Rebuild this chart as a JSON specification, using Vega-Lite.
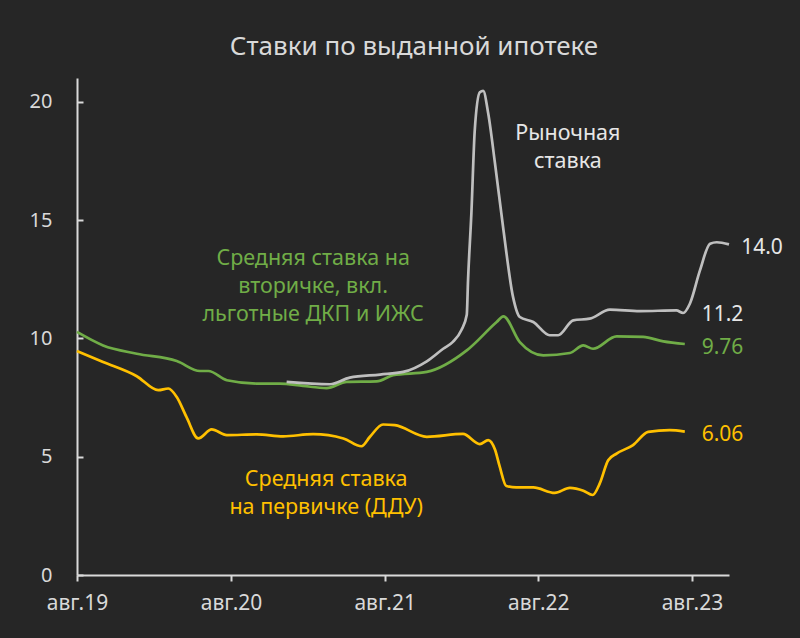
{
  "$schema": "https://vega.github.io/schema/vega-lite/v6.json",
  "autosize": {"type": "none"},
  "width": 652,
  "height": 497,
  "padding": {"left": 77, "top": 78, "right": 71, "bottom": 63},
  "background": "#262626",
  "config": {
    "view": {"stroke": null},
    "font": "Noto Sans",
    "text": {"font": "Noto Sans"}
  },
  "title": {
    "text": "Ставки по выданной ипотеке",
    "fontSize": 26,
    "fontWeight": "normal",
    "color": "#d9d9d9",
    "font": "Noto Sans",
    "anchor": "middle",
    "dx": 11,
    "offset": 18
  },
  "datasets": {
    "series": [
      {"date": "2019-08-01", "value": 10.27, "series": "green"},
      {"date": "2019-10-02", "value": 9.70, "series": "green"},
      {"date": "2019-12-21", "value": 9.35, "series": "green"},
      {"date": "2020-03-25", "value": 9.04, "series": "green"},
      {"date": "2020-05-19", "value": 8.62, "series": "green"},
      {"date": "2020-06-08", "value": 8.62, "series": "green"},
      {"date": "2020-07-22", "value": 8.23, "series": "green"},
      {"date": "2020-10-01", "value": 8.09, "series": "green"},
      {"date": "2020-11-25", "value": 8.09, "series": "green"},
      {"date": "2021-01-19", "value": 7.99, "series": "green"},
      {"date": "2021-03-16", "value": 7.90, "series": "green"},
      {"date": "2021-05-03", "value": 8.16, "series": "green"},
      {"date": "2021-07-13", "value": 8.18, "series": "green"},
      {"date": "2021-08-21", "value": 8.44, "series": "green"},
      {"date": "2021-11-09", "value": 8.58, "series": "green"},
      {"date": "2022-02-12", "value": 9.49, "series": "green"},
      {"date": "2022-04-24", "value": 10.69, "series": "green"},
      {"date": "2022-05-10", "value": 10.93, "series": "green"},
      {"date": "2022-06-18", "value": 9.84, "series": "green"},
      {"date": "2022-08-13", "value": 9.28, "series": "green"},
      {"date": "2022-10-15", "value": 9.38, "series": "green"},
      {"date": "2022-11-16", "value": 9.70, "series": "green"},
      {"date": "2022-12-09", "value": 9.56, "series": "green"},
      {"date": "2023-02-03", "value": 10.08, "series": "green"},
      {"date": "2023-04-07", "value": 10.06, "series": "green"},
      {"date": "2023-05-25", "value": 9.87, "series": "green"},
      {"date": "2023-07-15", "value": 9.76, "series": "green"},

      {"date": "2019-08-01", "value": 9.46, "series": "yellow"},
      {"date": "2019-10-02", "value": 9.00, "series": "yellow"},
      {"date": "2019-12-21", "value": 8.40, "series": "yellow"},
      {"date": "2020-02-10", "value": 7.81, "series": "yellow"},
      {"date": "2020-03-05", "value": 7.88, "series": "yellow"},
      {"date": "2020-03-25", "value": 7.52, "series": "yellow"},
      {"date": "2020-04-17", "value": 6.68, "series": "yellow"},
      {"date": "2020-05-15", "value": 5.77, "series": "yellow"},
      {"date": "2020-06-16", "value": 6.15, "series": "yellow"},
      {"date": "2020-07-22", "value": 5.91, "series": "yellow"},
      {"date": "2020-10-01", "value": 5.94, "series": "yellow"},
      {"date": "2020-12-03", "value": 5.86, "series": "yellow"},
      {"date": "2021-02-12", "value": 5.95, "series": "yellow"},
      {"date": "2021-04-25", "value": 5.77, "series": "yellow"},
      {"date": "2021-06-07", "value": 5.44, "series": "yellow"},
      {"date": "2021-06-27", "value": 5.84, "series": "yellow"},
      {"date": "2021-07-28", "value": 6.36, "series": "yellow"},
      {"date": "2021-08-25", "value": 6.33, "series": "yellow"},
      {"date": "2021-11-09", "value": 5.84, "series": "yellow"},
      {"date": "2022-02-03", "value": 5.96, "series": "yellow"},
      {"date": "2022-03-15", "value": 5.53, "series": "yellow"},
      {"date": "2022-04-04", "value": 5.70, "series": "yellow"},
      {"date": "2022-04-20", "value": 5.30, "series": "yellow"},
      {"date": "2022-05-01", "value": 4.60, "series": "yellow"},
      {"date": "2022-05-17", "value": 3.76, "series": "yellow"},
      {"date": "2022-06-10", "value": 3.70, "series": "yellow"},
      {"date": "2022-07-20", "value": 3.70, "series": "yellow"},
      {"date": "2022-09-09", "value": 3.47, "series": "yellow"},
      {"date": "2022-10-15", "value": 3.68, "series": "yellow"},
      {"date": "2022-11-16", "value": 3.56, "series": "yellow"},
      {"date": "2022-12-08", "value": 3.38, "series": "yellow"},
      {"date": "2022-12-25", "value": 3.87, "series": "yellow"},
      {"date": "2023-01-14", "value": 4.85, "series": "yellow"},
      {"date": "2023-02-03", "value": 5.13, "series": "yellow"},
      {"date": "2023-03-14", "value": 5.49, "series": "yellow"},
      {"date": "2023-04-19", "value": 6.05, "series": "yellow"},
      {"date": "2023-06-09", "value": 6.12, "series": "yellow"},
      {"date": "2023-07-15", "value": 6.06, "series": "yellow"},

      {"date": "2020-12-11", "value": 8.16, "series": "gray"},
      {"date": "2021-03-24", "value": 8.06, "series": "gray"},
      {"date": "2021-05-10", "value": 8.34, "series": "gray"},
      {"date": "2021-07-21", "value": 8.47, "series": "gray"},
      {"date": "2021-09-14", "value": 8.58, "series": "gray"},
      {"date": "2021-11-09", "value": 9.03, "series": "gray"},
      {"date": "2021-12-18", "value": 9.56, "series": "gray"},
      {"date": "2022-01-10", "value": 9.85, "series": "gray"},
      {"date": "2022-01-30", "value": 10.34, "series": "gray"},
      {"date": "2022-02-12", "value": 11.0, "series": "gray"},
      {"date": "2022-02-15", "value": 12.45, "series": "gray"},
      {"date": "2022-02-23", "value": 15.3, "series": "gray"},
      {"date": "2022-03-03", "value": 18.8, "series": "gray"},
      {"date": "2022-03-15", "value": 20.4, "series": "gray"},
      {"date": "2022-03-23", "value": 20.46, "series": "gray"},
      {"date": "2022-04-04", "value": 19.5, "series": "gray"},
      {"date": "2022-04-20", "value": 17.4, "series": "gray"},
      {"date": "2022-05-10", "value": 14.6, "series": "gray"},
      {"date": "2022-06-02", "value": 11.74, "series": "gray"},
      {"date": "2022-06-18", "value": 10.9, "series": "gray"},
      {"date": "2022-07-20", "value": 10.69, "series": "gray"},
      {"date": "2022-08-28", "value": 10.13, "series": "gray"},
      {"date": "2022-09-17", "value": 10.13, "series": "gray"},
      {"date": "2022-10-23", "value": 10.76, "series": "gray"},
      {"date": "2022-12-01", "value": 10.83, "series": "gray"},
      {"date": "2023-01-18", "value": 11.21, "series": "gray"},
      {"date": "2023-03-30", "value": 11.15, "series": "gray"},
      {"date": "2023-06-25", "value": 11.18, "series": "gray"},
      {"date": "2023-07-11", "value": 11.07, "series": "gray"},
      {"date": "2023-07-27", "value": 11.46, "series": "gray"},
      {"date": "2023-08-20", "value": 12.87, "series": "gray"},
      {"date": "2023-09-13", "value": 14.0, "series": "gray"},
      {"date": "2023-09-29", "value": 14.06, "series": "gray"},
      {"date": "2023-10-28", "value": 13.97, "series": "gray"}
    ],
    "notes": [
      {"date": "2022-10-10", "value": 18.37, "text": "Рыночная\nставка", "series": "graytext"},
      {"date": "2021-02-12", "value": 13.10, "text": "Средняя ставка на\nвторичке, вкл.\nльготные ДКП и ИЖС", "series": "green"},
      {"date": "2021-03-15", "value": 3.76, "text": "Средняя ставка\nна первичке (ДДУ)", "series": "yellow"}
    ],
    "ends": [
      {"date": "2023-11-26", "value": 13.8, "text": "14.0", "series": "graytext"},
      {"date": "2023-08-24", "value": 11.0, "text": "11.2", "series": "graytext"},
      {"date": "2023-08-24", "value": 9.6, "text": "9.76", "series": "green"},
      {"date": "2023-08-24", "value": 5.9, "text": "6.06", "series": "yellow"}
    ]
  },
  "layer": [
    {
      "data": {"name": "series"},
      "mark": {"type": "line", "strokeWidth": 2.7, "interpolate": "monotone"},
      "encoding": {
        "x": {
          "field": "date",
          "type": "temporal",
          "scale": {"type": "utc", "domain": [{"year": 2019, "month": 8, "date": 1, "utc": true}, {"year": 2023, "month": 10, "date": 28, "utc": true}]},
          "axis": {
            "title": null,
            "values": [
              {"year": 2019, "month": 8, "date": 1, "utc": true},
              {"year": 2020, "month": 8, "date": 1, "utc": true},
              {"year": 2021, "month": 8, "date": 1, "utc": true},
              {"year": 2022, "month": 8, "date": 1, "utc": true},
              {"year": 2023, "month": 8, "date": 1, "utc": true}
            ],
            "labelExpr": "'авг.' + utcFormat(datum.value, '%y')",
            "grid": false,
            "domainColor": "#d9d9d9",
            "domainWidth": 2,
            "tickColor": "#d9d9d9",
            "tickWidth": 2,
            "tickSize": 6,
            "labelColor": "#d9d9d9",
            "labelFontSize": 21,
            "labelFont": "Noto Sans",
            "labelPadding": 11,
            "labelFlush": false,
            "labelOverlap": false
          }
        },
        "y": {
          "field": "value",
          "type": "quantitative",
          "scale": {"domain": [0, 21], "nice": false},
          "axis": {
            "title": null,
            "values": [0, 5, 10, 15, 20],
            "grid": false,
            "domainColor": "#d9d9d9",
            "domainWidth": 2,
            "tickColor": "#d9d9d9",
            "tickWidth": 2,
            "tickSize": -6,
            "labelColor": "#d9d9d9",
            "labelFontSize": 20,
            "labelFont": "Noto Sans",
            "labelPadding": 31
          }
        },
        "color": {
          "field": "series",
          "type": "nominal",
          "scale": {"domain": ["green", "yellow", "gray", "graytext"], "range": ["#70ad47", "#ffc000", "#bfbfbf", "#e6e6e6"]},
          "legend": null
        }
      }
    },
    {
      "data": {"name": "notes"},
      "mark": {"type": "text", "fontSize": 21.5, "lineBreak": "\n", "lineHeight": 28, "align": "center", "baseline": "alphabetic"},
      "encoding": {
        "x": {"field": "date", "type": "temporal"},
        "y": {"field": "value", "type": "quantitative"},
        "text": {"field": "text"},
        "color": {"field": "series", "type": "nominal", "legend": null}
      }
    },
    {
      "data": {"name": "ends"},
      "mark": {"type": "text", "fontSize": 21, "align": "left", "baseline": "middle"},
      "encoding": {
        "x": {"field": "date", "type": "temporal"},
        "y": {"field": "value", "type": "quantitative"},
        "text": {"field": "text"},
        "color": {"field": "series", "type": "nominal", "legend": null}
      }
    }
  ]
}
